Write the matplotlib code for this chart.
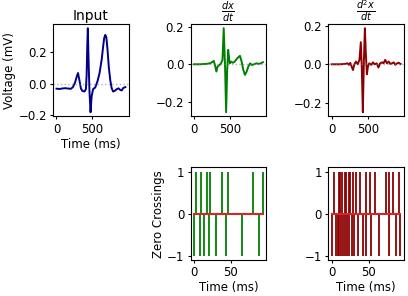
import matplotlib.pyplot as plt

# input signal (ms, mV)
input_time = [0, 40, 80, 120, 160, 200, 230, 260, 280, 300, 320, 340, 360, 390, 410, 420,
              430, 437, 447, 460, 475, 490, 510, 540, 570, 600, 630, 650, 665, 680, 695,
              710, 730, 750, 770, 790, 815, 840, 865, 890, 910, 930, 960]
input_volt = [-0.032, -0.034, -0.031, -0.029, -0.031, -0.033, -0.022, 0.008, 0.040, 0.066,
              0.020, -0.030, -0.046, -0.050, -0.035, 0.05, 0.25, 0.347, 0.15, -0.05, -0.18,
              -0.08, -0.035, -0.025, 0.012, 0.065, 0.15, 0.23, 0.285, 0.305, 0.29, 0.22,
              0.10, 0.02, -0.030, -0.050, -0.045, -0.035, -0.030, -0.040, -0.043, -0.028,
              -0.022]

# first derivative
dx_time = [0, 80, 170, 220, 245, 270, 287, 306, 324, 350, 370, 390, 407, 426, 440, 454,
           468, 481, 491, 509, 532, 556, 593, 630, 653, 676, 699, 722, 745, 769, 792, 824,
           857, 884, 917, 945]
dx_vals = [0, 0, 0.002, 0.005, 0.011, 0.018, -0.004, -0.039, -0.012, -0.004, 0.005, 0.023,
           0.193, -0.02, -0.257, -0.04, 0.077, 0.032, 0.005, 0.014, 0.008, 0.014, 0.032,
           0.045, 0.014, -0.03, -0.057, -0.039, -0.012, 0.005, -0.004, 0.0, 0.005, 0.002,
           0.005, 0.011]

# second derivative
d2x_time = [0, 120, 187, 220, 238, 257, 276, 294, 313, 336, 360, 383, 402, 416, 430, 444,
            458, 472, 486, 500, 518, 546, 570, 593, 621, 644, 668, 696, 714, 738, 761, 785,
            808, 831, 855, 878, 901, 924, 948]
d2x_vals = [0, 0, 0.002, 0.005, -0.003, 0.007, -0.012, -0.03, 0.0, 0.014, 0.0, 0.023, 0.115,
            -0.025, -0.25, 0.014, 0.188, 0.048, -0.052, -0.012, 0.005, -0.003, 0.01, 0.0,
            0.005, -0.017, 0.005, 0.01, 0.005, 0.023, 0.005, 0.014, 0.002, 0.005, 0.01,
            -0.003, 0.005, 0.008, 0.002]

# zero crossings (sample index), up = +1, down = -1
dx_up = [2, 9, 18, 22, 38, 46, 80, 94]
dx_down = [0, 8, 13, 21, 30, 43, 66, 89]
d2x_up = [3, 10, 12, 14, 18, 20, 23, 25, 29, 33, 38, 46, 52, 58, 73, 77, 83, 91]
d2x_down = [0, 6, 8, 10, 13, 16, 18, 21, 24, 27, 30, 35, 42, 47, 53, 64, 78, 87, 93]


def plot_signal(ax, t, v, color, title, pad):
    ax.plot(t, v, color=color, lw=1.4)
    ax.axhline(0, color='grey', ls=':', lw=1, alpha=0.6)
    ax.set_title(title, fontsize=10, pad=pad)
    ax.set_xticks([0, 500])
    ax.set_yticks([-0.2, 0.0, 0.2])


def plot_crossings(ax, up, down, color):
    x = up + down
    y = [1] * len(up) + [-1] * len(down)
    markers, stems, base = ax.stem(x, y, linefmt='-', markerfmt=' ', basefmt='C3-')
    stems.set_color(color)
    stems.set_linewidth(1.3)
    base.set_linewidth(1.5)
    base.set_zorder(3)
    ax.set_xticks([0, 50])
    ax.set_yticks([-1, 0, 1])
    ax.set_xlabel("Time (ms)")


def main():
    plt.rcParams['font.size'] = 8.5
    plt.rcParams['xtick.major.size'] = 2.5
    plt.rcParams['ytick.major.size'] = 2.5
    plt.rcParams['xtick.major.pad'] = 2
    plt.rcParams['ytick.major.pad'] = 2
    plt.rcParams['axes.labelpad'] = 1.5
    fig, axes = plt.subplots(2, 3, figsize=(4.08, 2.96), dpi=100)
    plt.subplots_adjust(left=0.130, right=0.990, top=0.919, bottom=0.122,
                        wspace=0.816, hspace=0.55)

    plot_signal(axes[0, 0], input_time, input_volt, 'darkblue', "Input", 3)
    axes[0, 0].set_xlabel("Time (ms)")
    axes[0, 0].set_ylabel("Voltage (mV)")
    plot_signal(axes[0, 1], dx_time, dx_vals, 'green', r"$\frac{dx}{dt}$", 2)
    plot_signal(axes[0, 2], d2x_time, d2x_vals, 'darkred', r"$\frac{d^2x}{dt}$", 2)

    axes[1, 0].axis('off')
    plot_crossings(axes[1, 1], dx_up, dx_down, 'green')
    axes[1, 1].set_ylabel("Zero Crossings")
    plot_crossings(axes[1, 2], d2x_up, d2x_down, 'darkred')

    fig.savefig("out.png")


if __name__ == "__main__":
    main()
